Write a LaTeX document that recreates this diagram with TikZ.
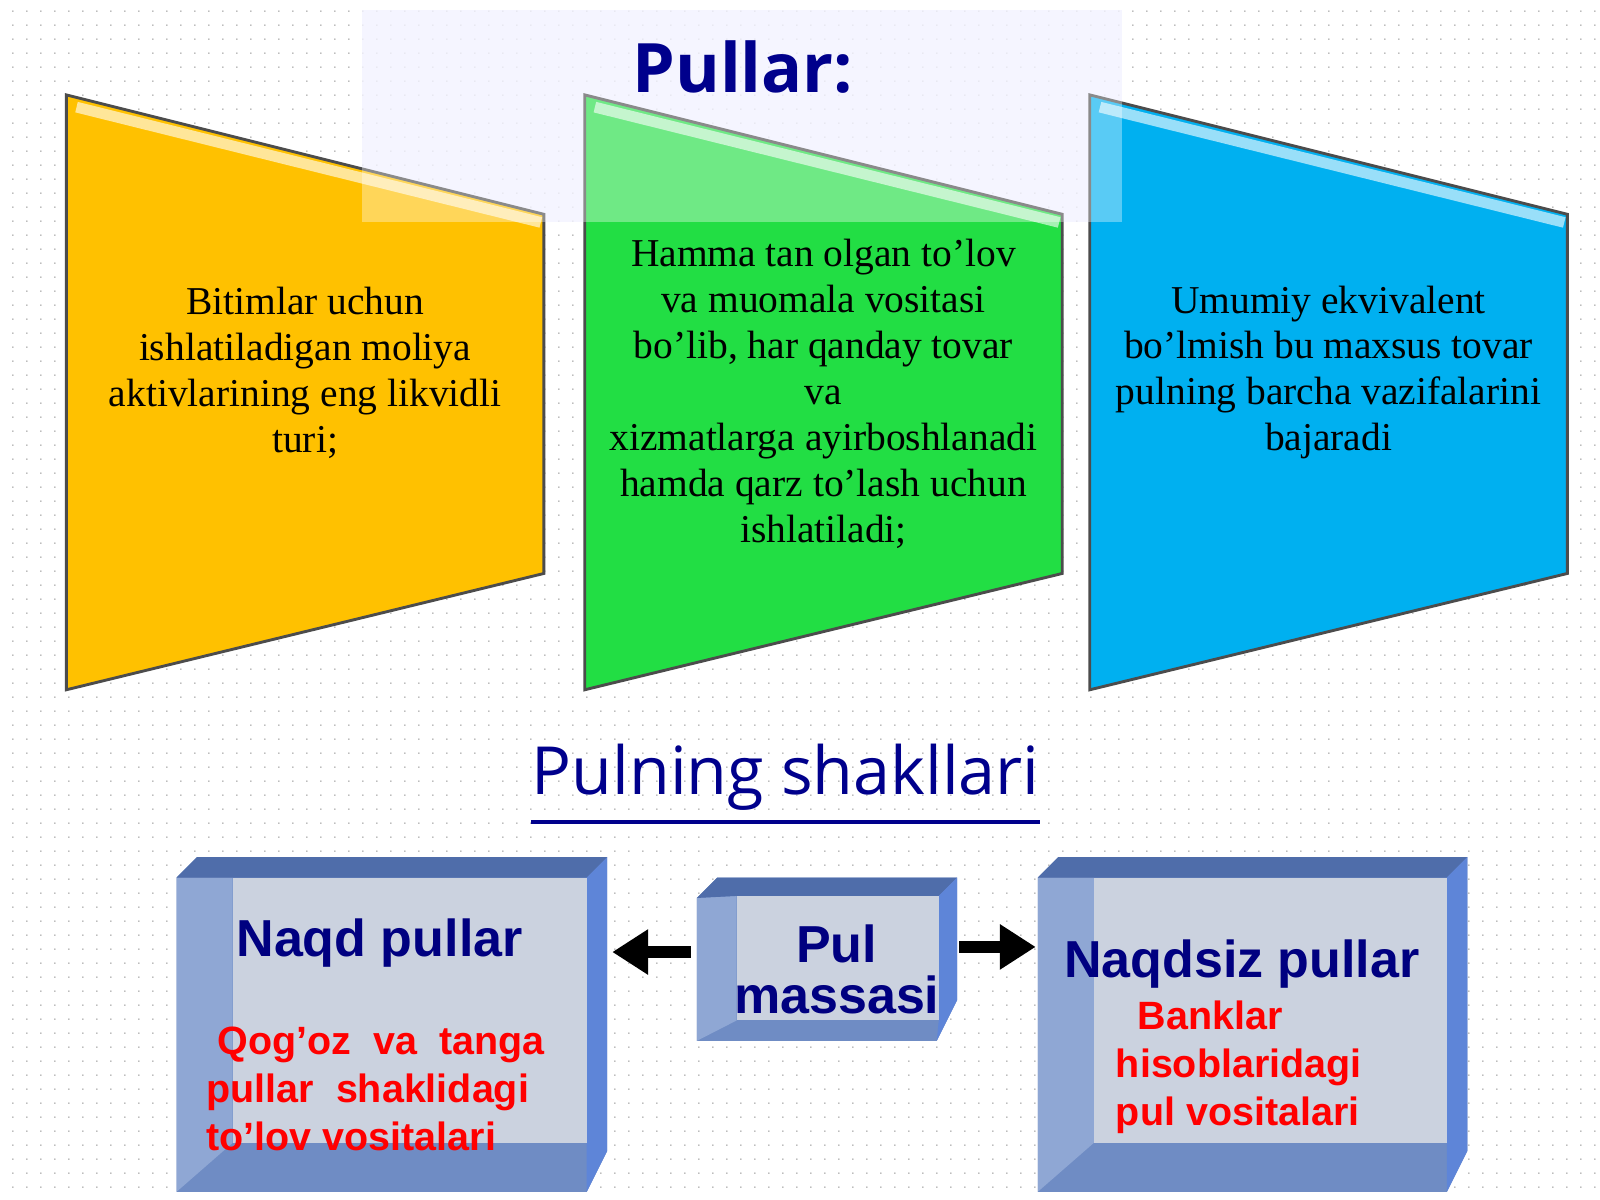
\documentclass[tikz,border=0pt]{standalone}
\usepackage{fontspec}
\usetikzlibrary{patterns.meta,arrows.meta}
\setmainfont{Liberation Serif}
\newfontfamily\arial{Liberation Sans}
\newfontfamily\noto{Open Sans}
\begin{document}
\begin{tikzpicture}[x=0.01cm,y=-0.01cm,
  trap/.style={draw=black!70,line width=0.8pt},
  ttext/.style={align=center,font=\fontsize{11}{12.8}\selectfont,text=black},
  btitle/.style={font=\arial\bfseries\fontsize{14.5}{16}\selectfont,text=blue!50!black,align=center},
  rtext/.style={font=\arial\bfseries\fontsize{11}{13.3}\selectfont,text=red,align=left},
  arr/.style={-{Triangle[length=10pt,width=12pt]},line width=3.5pt,black}]
\definecolor{fr}{HTML}{6F8CC4}\definecolor{frl}{HTML}{8FA7D4}\definecolor{frd}{HTML}{4F6DAA}\definecolor{frr}{HTML}{5E85D8}\definecolor{inn}{HTML}{D5DAE3}
\useasboundingbox (0,0) rectangle (1568,1176);
\fill[white] (0,0) rectangle (1568,1176);
\fill[pattern={Dots[distance=4pt,radius=0.25pt]},pattern color=gray!70] (0,0) rectangle (1568,1176);
\fill[blue!8,opacity=0.7] (355,10) rectangle (1100,218);
% trapezoids
\fill[trap,fill={rgb,255:red,255;green,193;blue,0}] (65,93) -- (533,210) -- (533,562) -- (65,676) -- cycle;
\fill[trap,fill={rgb,255:red,34;green,222;blue,68}] (573,93) -- (1041,210) -- (1041,562) -- (573,676) -- cycle;
\fill[trap,fill={rgb,255:red,0;green,176;blue,240}] (1068,93) -- (1536,210) -- (1536,562) -- (1068,676) -- cycle;
\foreach \dx in {0,508,1003}{\draw[white,opacity=0.6,line width=3pt] (75+\dx,105)--(530+\dx,218);}
\fill[white,opacity=0.35] (355,10) rectangle (1100,218);
\node[font=\noto\bfseries\fontsize{19}{22}\selectfont,text=blue!55!black] (t) at (728,66) {Pullar:};
\node[ttext] (y) at (299,365) {Bitimlar uchun\\ishlatiladigan moliya\\aktivlarining eng likvidli\\turi;};
\node[ttext] (g) at (807,386) {Hamma tan olgan to’lov\\va muomala vositasi\\bo’lib, har qanday tovar\\va\\xizmatlarga ayirboshlanadi\\hamda qarz to’lash uchun\\ishlatiladi;};
\node[ttext] (b) at (1302,365) {Umumiy ekvivalent\\bo’lmish bu maxsus tovar\\pulning barcha vazifalarini\\bajaradi};
\node[font=\noto\fontsize{18.5}{22}\selectfont,text=blue!55!black,inner sep=0pt] (ps) at (770,762) {Pulning shakllari};
\draw[blue!55!black,line width=1pt] ([yshift=-3pt]ps.south west) -- ([yshift=-3pt]ps.south east);
% boxes
\foreach \xa/\ya/\xb/\yb/\ia/\ib/\ic/\id in {173/840/595/1168/228/860/575/1120,683/860/938/1020/722/878/920/1000,1017/840/1438/1168/1072/860/1418/1120}{
  \fill[fr] (\xa,\ya+20) -- (\xa+20,\ya) -- (\xb,\ya) -- (\xb,\yb-40) -- (\xb-20,\yb) -- (\xa,\yb) -- cycle;
  \fill[frl] (\xa,\ya+20) -- (\ia,\ib) -- (\ia,\id) -- (\xa,\yb) -- cycle;
  \fill[frd] (\xa,\ya+20) -- (\xa+20,\ya) -- (\xb,\ya) -- (\ic,\ib) -- (\ia,\ib) -- cycle;
  \fill[frr] (\xb,\ya) -- (\xb,\yb-40) -- (\xb-20,\yb) -- (\ic,\id) -- (\ic,\ib) -- cycle;
  \fill[inn,opacity=0.9] (\ia,\ib) rectangle (\ic,\id);
}
\node[btitle] (nq) at (372,924) {Naqd pullar};
\node[rtext] (nqt) at (368,1067) {\ Qog’oz\ \ va\ \ tanga\\pullar\ \ shaklidagi\\to’lov vositalari};
\node[btitle] (pm) at (820,950) {Pul\\[-2pt]massasi};
\node[btitle] (ns) at (1217,945) {Naqdsiz pullar};
\node[rtext] (nst) at (1214,1046) {\ \ Banklar\\hisoblaridagi\\pul vositalari};
\coordinate (la) at (677,933); \coordinate (lb) at (600,933);
\coordinate (ra) at (940,928); \coordinate (rb) at (1015,928);
\draw[arr] (la) -- (lb);
\draw[arr] (ra) -- (rb);
\end{tikzpicture}
\end{document}
